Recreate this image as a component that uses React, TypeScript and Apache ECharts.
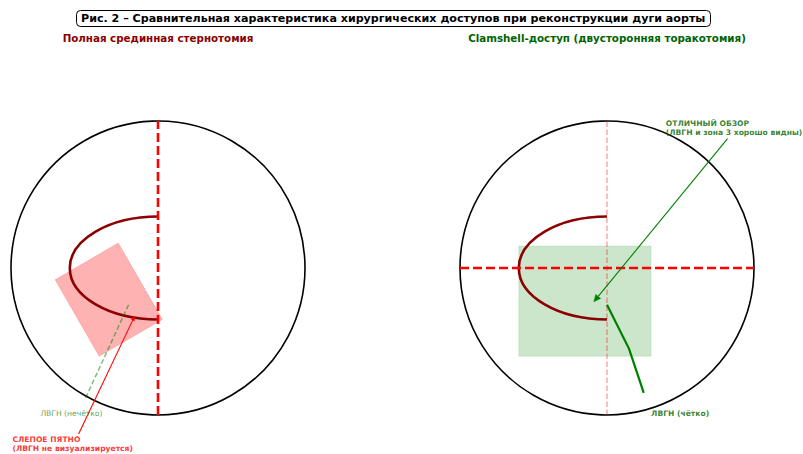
import React, { useEffect, useRef } from "react";
import * as echarts from "echarts";

const FONT = "DejaVu Sans";

const titleText = "Рис. 2 – Сравнительная характеристика хирургических доступов при реконструкции дуги аорты";
const leftTitle = "Полная срединная стернотомия";
const rightTitle = "Clamshell-доступ (двусторонняя торакотомия)";

// [cx, cy, r]
const circleData = [[0, 0, 1]];
// [cx, cy, rx, ry] – left half-ellipse (aortic arch)
const archData = [[0, 0, 0.6, 0.35]];
const leftSternLine = [[0, -1], [0, 1]];
const rightHorizLine = [[-1, 0], [1, 0]];
const rightVertLine = [[0, -1], [0, 1]];
const blindRect = [[-0.27, 0.17], [0.03, -0.35], [-0.4, -0.6], [-0.7, -0.08]];
// [x0, y0, x1, y1]
const viewRect = [[-0.6, 0.15, 0.3, -0.6]];
const lvgnLeft = [[-0.2, -0.25], [-0.5, -0.9]];
const lvgnRight = [[0, -0.25], [0.15, -0.55], [0.25, -0.85]];
// [x0, y0, x1, y1] arrow from text to target
const blindArrow = [[-0.54, -1.13, -0.16, -0.33]];
const viewArrow = [[0.82, 0.88, -0.09, -0.23]];
const labelsLeft = [
  { pos: [-0.8, -0.99], text: "ЛВГН (нечётко)", color: "#2e8e2e", bold: false },
  { pos: [-0.99, -1.2], text: "СЛЕПОЕ ПЯТНО\n(ЛВГН не визуализируется)", color: "#ff0000", bold: true },
];
const labelsRight = [
  { pos: [0.3, -0.99], text: "ЛВГН (чётко)", color: "#006400", bold: true },
  { pos: [0.4, 0.95], text: "ОТЛИЧНЫЙ ОБЗОР\n(ЛВГН и зона 3 хорошо видны)", color: "#006400", bold: true },
];

function circleSeries(idx: number) {
  return {
    type: "custom",
    xAxisIndex: idx,
    yAxisIndex: idx,
    clip: false,
    silent: true,
    z: 5,
    data: circleData,
    renderItem: (params: any, api: any) => {
      const c = api.coord([api.value(0), api.value(1)]);
      const s = api.size([api.value(2), api.value(2)]);
      return {
        type: "circle",
        shape: { cx: c[0], cy: c[1], r: s[0] },
        style: { fill: "none", stroke: "#000", lineWidth: 1.6 },
      };
    },
  };
}

function archSeries(idx: number) {
  return {
    type: "custom",
    xAxisIndex: idx,
    yAxisIndex: idx,
    clip: false,
    silent: true,
    z: 6,
    data: archData,
    renderItem: (params: any, api: any) => {
      const c = api.coord([api.value(0), api.value(1)]);
      const s = api.size([api.value(2), api.value(3)]);
      const rx = s[0];
      const ry = s[1];
      const k = 0.5523;
      const cx = c[0];
      const cy = c[1];
      const d =
        `M ${cx} ${cy - ry} C ${cx - k * rx} ${cy - ry} ${cx - rx} ${cy - k * ry} ${cx - rx} ${cy} ` +
        `C ${cx - rx} ${cy + k * ry} ${cx - k * rx} ${cy + ry} ${cx} ${cy + ry}`;
      return {
        type: "path",
        shape: { pathData: d },
        style: { fill: "none", stroke: "#8B0000", lineWidth: 2.6 },
      };
    },
  };
}

function lineSeries(idx: number, data: number[][], color: string, width: number, type: any, z = 4) {
  return {
    type: "line",
    xAxisIndex: idx,
    yAxisIndex: idx,
    data,
    clip: false,
    silent: true,
    symbol: "none",
    z,
    lineStyle: { color, width, type },
  };
}

function labelSeries(idx: number, items: any[]) {
  return {
    type: "scatter",
    xAxisIndex: idx,
    yAxisIndex: idx,
    clip: false,
    silent: true,
    symbolSize: 0,
    z: 10,
    data: items.map((it) => ({
      value: it.pos,
      label: {
        show: true,
        position: "right",
        distance: 0,
        formatter: it.text,
        color: it.color,
        fontWeight: it.bold ? "bold" : "normal",
        fontSize: 7.6,
        lineHeight: 9,
        fontFamily: FONT,
        align: "left",
        verticalAlign: "middle",
      },
    })),
  };
}

function arrowSeries(idx: number, data: number[][], color: string, head: number, width: number) {
  return {
    type: "custom",
    xAxisIndex: idx,
    yAxisIndex: idx,
    clip: false,
    silent: true,
    z: 9,
    data,
    renderItem: (params: any, api: any) => {
      const a = api.coord([api.value(0), api.value(1)]);
      const b = api.coord([api.value(2), api.value(3)]);
      const dx = b[0] - a[0];
      const dy = b[1] - a[1];
      const len = Math.sqrt(dx * dx + dy * dy);
      const ux = dx / len;
      const uy = dy / len;
      const px = -uy;
      const py = ux;
      const hl = head;
      const hw = head * 0.45;
      const base = [b[0] - ux * hl, b[1] - uy * hl];
      return {
        type: "group",
        children: [
          {
            type: "line",
            shape: { x1: a[0], y1: a[1], x2: base[0], y2: base[1] },
            style: { stroke: color, lineWidth: width },
          },
          {
            type: "polygon",
            shape: {
              points: [
                [b[0], b[1]],
                [base[0] + px * hw, base[1] + py * hw],
                [base[0] - px * hw, base[1] - py * hw],
              ],
            },
            style: { fill: color, stroke: color, lineWidth: 0.5 },
          },
        ],
      };
    },
  };
}

export default function App() {
  const ref = useRef<HTMLDivElement>(null);
  useEffect(() => {
    document.body.style.margin = "0";
    const chart = echarts.init(ref.current!, null, { renderer: "svg" });
    const axisBase = { type: "value", min: -1, max: 1, show: false };
    chart.setOption({
      animation: false,
      backgroundColor: "#fff",
      title: [
        {
          text: titleText,
          left: 76,
          top: 10,
          padding: [3, 5],
          borderColor: "#000",
          borderWidth: 1,
          borderRadius: 4,
          backgroundColor: "#fff",
          textStyle: { fontSize: 11.1, fontWeight: "bold", color: "#000", fontFamily: FONT },
        },
      ],
      graphic: [
        {
          type: "text",
          x: 158,
          y: 38,
          style: {
            text: leftTitle,
            textAlign: "center",
            textVerticalAlign: "middle",
            fill: "#8B0000",
            font: `bold 10.3px "${FONT}"`,
          },
        },
        {
          type: "text",
          x: 607,
          y: 38,
          style: {
            text: rightTitle,
            textAlign: "center",
            textVerticalAlign: "middle",
            fill: "#006400",
            font: `bold 10.3px "${FONT}"`,
          },
        },
      ],
      grid: [
        { left: 11, top: 121, width: 294, height: 294 },
        { left: 460, top: 121, width: 294, height: 294 },
      ],
      xAxis: [
        { ...axisBase, gridIndex: 0 },
        { ...axisBase, gridIndex: 1 },
      ],
      yAxis: [
        { ...axisBase, gridIndex: 0 },
        { ...axisBase, gridIndex: 1 },
      ],
      series: [
        // left panel
        {
          type: "custom",
          xAxisIndex: 0,
          yAxisIndex: 0,
          clip: false,
          silent: true,
          z: 3,
          data: [[0, 0]],
          renderItem: (params: any, api: any) => {
            const pts = blindRect.map((p) => api.coord(p));
            return {
              type: "polygon",
              shape: { points: pts },
              style: { fill: "rgba(255,0,0,0.3)", stroke: "rgba(255,0,0,0.15)", lineWidth: 1 },
            };
          },
        },
        circleSeries(0),
        lineSeries(0, leftSternLine, "#ff0000", 2.6, [9, 4], 7),
        archSeries(0),
        lineSeries(0, lvgnLeft, "rgba(0,128,0,0.5)", 1.5, [5, 2.5], 8),
        arrowSeries(0, blindArrow, "#ff0000", 4, 1.1),
        labelSeries(0, labelsLeft),
        // right panel
        {
          type: "custom",
          xAxisIndex: 1,
          yAxisIndex: 1,
          clip: false,
          silent: true,
          z: 3,
          data: viewRect,
          renderItem: (params: any, api: any) => {
            const p0 = api.coord([api.value(0), api.value(1)]);
            const p1 = api.coord([api.value(2), api.value(3)]);
            return {
              type: "rect",
              shape: { x: p0[0], y: p0[1], width: p1[0] - p0[0], height: p1[1] - p0[1] },
              style: { fill: "rgba(0,128,0,0.2)", stroke: "rgba(0,128,0,0.1)", lineWidth: 1 },
            };
          },
        },
        circleSeries(1),
        lineSeries(1, rightVertLine, "rgba(255,0,0,0.35)", 1.5, [5.5, 2.5], 4),
        lineSeries(1, rightHorizLine, "#ff0000", 2.6, [9, 4], 7),
        archSeries(1),
        lineSeries(1, lvgnRight, "#008000", 2.2, "solid", 8),
        arrowSeries(1, viewArrow, "#008000", 7, 1.1),
        labelSeries(1, labelsRight),
      ],
    });
    return () => chart.dispose();
  }, []);
  return <div ref={ref} style={{ width: 803, height: 454 }} />;
}
